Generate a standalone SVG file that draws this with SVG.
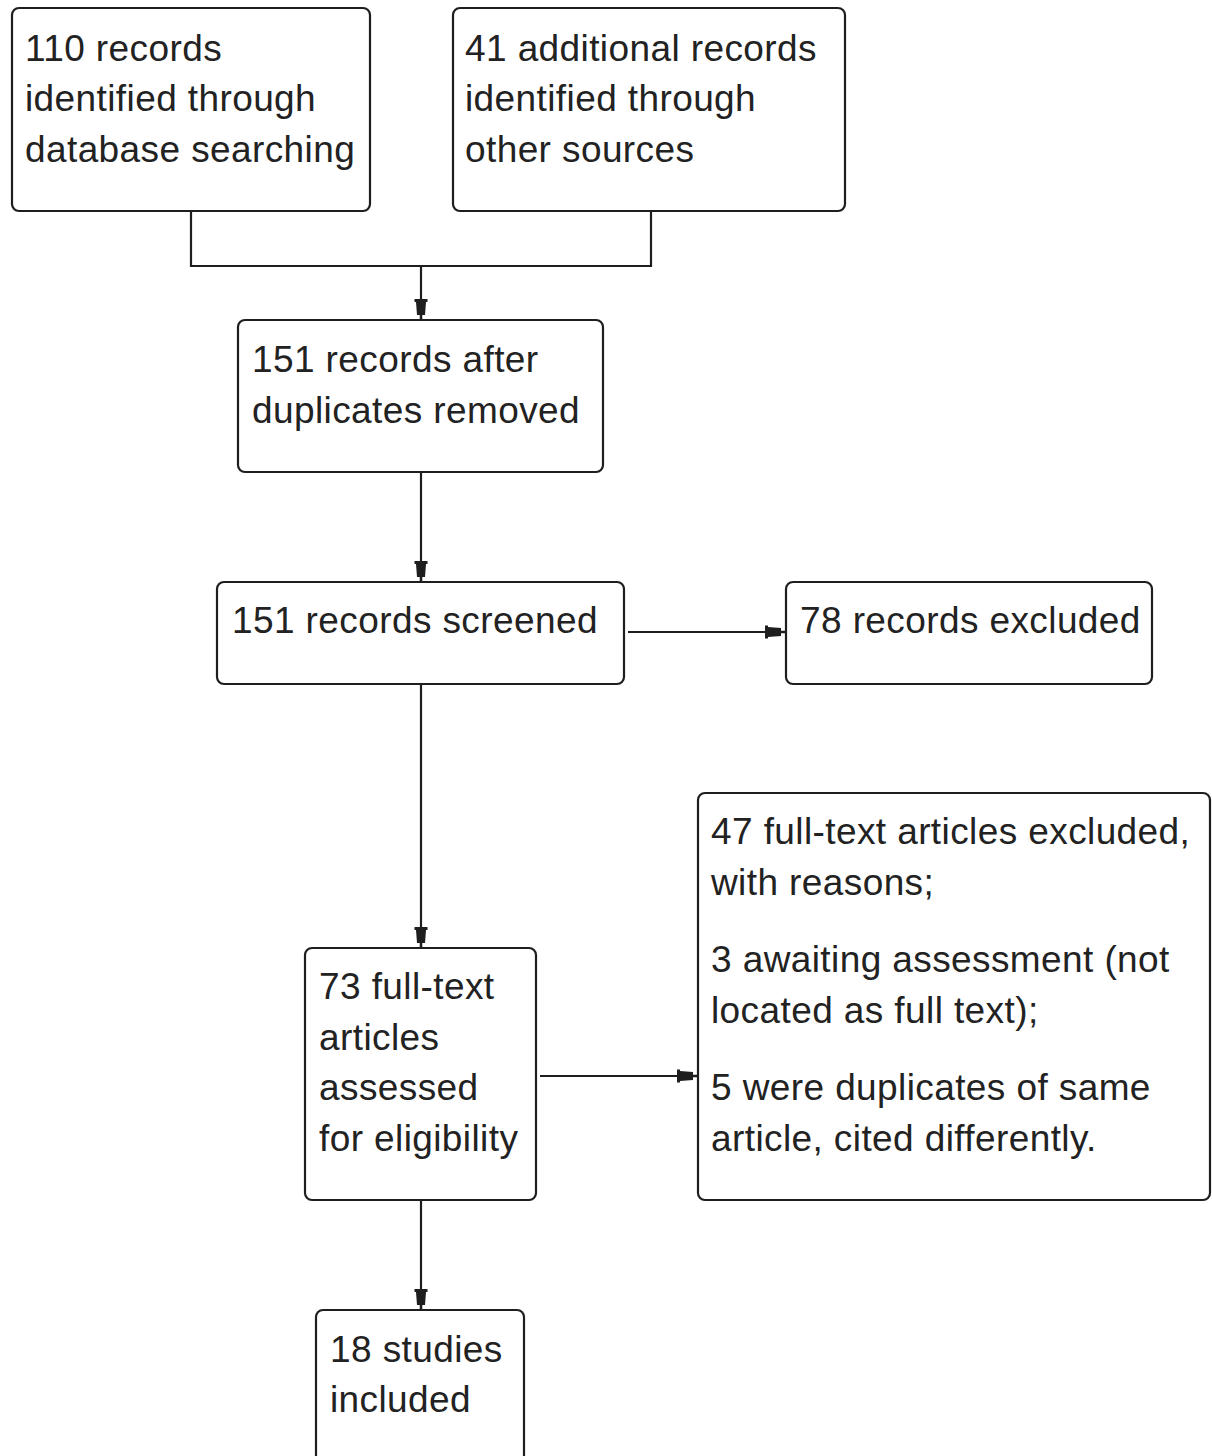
<svg xmlns="http://www.w3.org/2000/svg" width="1212" height="1456" viewBox="0 0 1212 1456">
<defs>
<style>
.box{fill:#fff;stroke:#1e1e1e;stroke-width:2.2}
.t{font-family:"Liberation Sans",Arial,sans-serif;font-size:37px;letter-spacing:0.4px;fill:#222}
.c{fill:none;stroke:#1e1e1e;stroke-width:2.2}
</style>
<marker id="ah" viewBox="0 -8 22 16" markerWidth="22" markerHeight="16" refX="21" refY="0" orient="auto" markerUnits="userSpaceOnUse">
<path d="M0,-6.5 L3,-6.5 L3,-5 L16,-4 L16,-1.2 L21,-1.2 L21,1.2 L16,1.2 L16,4 L3,5 L3,6.5 L0,6.5 Z" fill="#1e1e1e"/>
</marker>
</defs>
<rect width="1212" height="1456" fill="#fff"/>
<g id="connectors">
<path class="c" d="M191,211 V266 H651 V211"/>
<path class="c" d="M421,266 V320" marker-end="url(#ah)"/>
<path class="c" d="M421,472 V582" marker-end="url(#ah)"/>
<path class="c" d="M628,632 H786" marker-end="url(#ah)"/>
<path class="c" d="M421,684 V948" marker-end="url(#ah)"/>
<path class="c" d="M540,1076 H698" marker-end="url(#ah)"/>
<path class="c" d="M421,1200 V1310" marker-end="url(#ah)"/>
</g>
<g id="n1">
<rect class="box" x="12" y="8" width="358" height="203" rx="7"/>
<text class="t" x="25" y="61">110 records</text>
<text class="t" x="25" y="111">identified through</text>
<text class="t" x="25" y="162">database searching</text>
</g>
<g id="n2">
<rect class="box" x="453" y="8" width="392" height="203" rx="7"/>
<text class="t" x="465" y="61">41 additional records</text>
<text class="t" x="465" y="111">identified through</text>
<text class="t" x="465" y="162">other sources</text>
</g>
<g id="n3">
<rect class="box" x="238" y="320" width="365" height="152" rx="7"/>
<text class="t" x="252" y="372">151 records after</text>
<text class="t" x="252" y="423">duplicates removed</text>
</g>
<g id="n4">
<rect class="box" x="217" y="582" width="407" height="102" rx="7"/>
<text class="t" x="232" y="633">151 records screened</text>
</g>
<g id="n5">
<rect class="box" x="786" y="582" width="366" height="102" rx="7"/>
<text class="t" x="800" y="633">78 records excluded</text>
</g>
<g id="n6">
<rect class="box" x="305" y="948" width="231" height="252" rx="7"/>
<text class="t" x="319" y="999">73 full-text</text>
<text class="t" x="319" y="1050">articles</text>
<text class="t" x="319" y="1100">assessed</text>
<text class="t" x="319" y="1151">for eligibility</text>
</g>
<g id="n7">
<rect class="box" x="698" y="793" width="512" height="407" rx="7"/>
<text class="t" x="711" y="844">47 full-text articles excluded,</text>
<text class="t" x="711" y="895">with reasons;</text>
<text class="t" x="711" y="972">3 awaiting assessment (not</text>
<text class="t" x="711" y="1023">located as full text);</text>
<text class="t" x="711" y="1100">5 were duplicates of same</text>
<text class="t" x="711" y="1151">article, cited differently.</text>
</g>
<g id="n8">
<rect class="box" x="316" y="1310" width="208" height="170" rx="7"/>
<text class="t" x="330" y="1362">18 studies</text>
<text class="t" x="330" y="1412">included</text>
</g>
</svg>
